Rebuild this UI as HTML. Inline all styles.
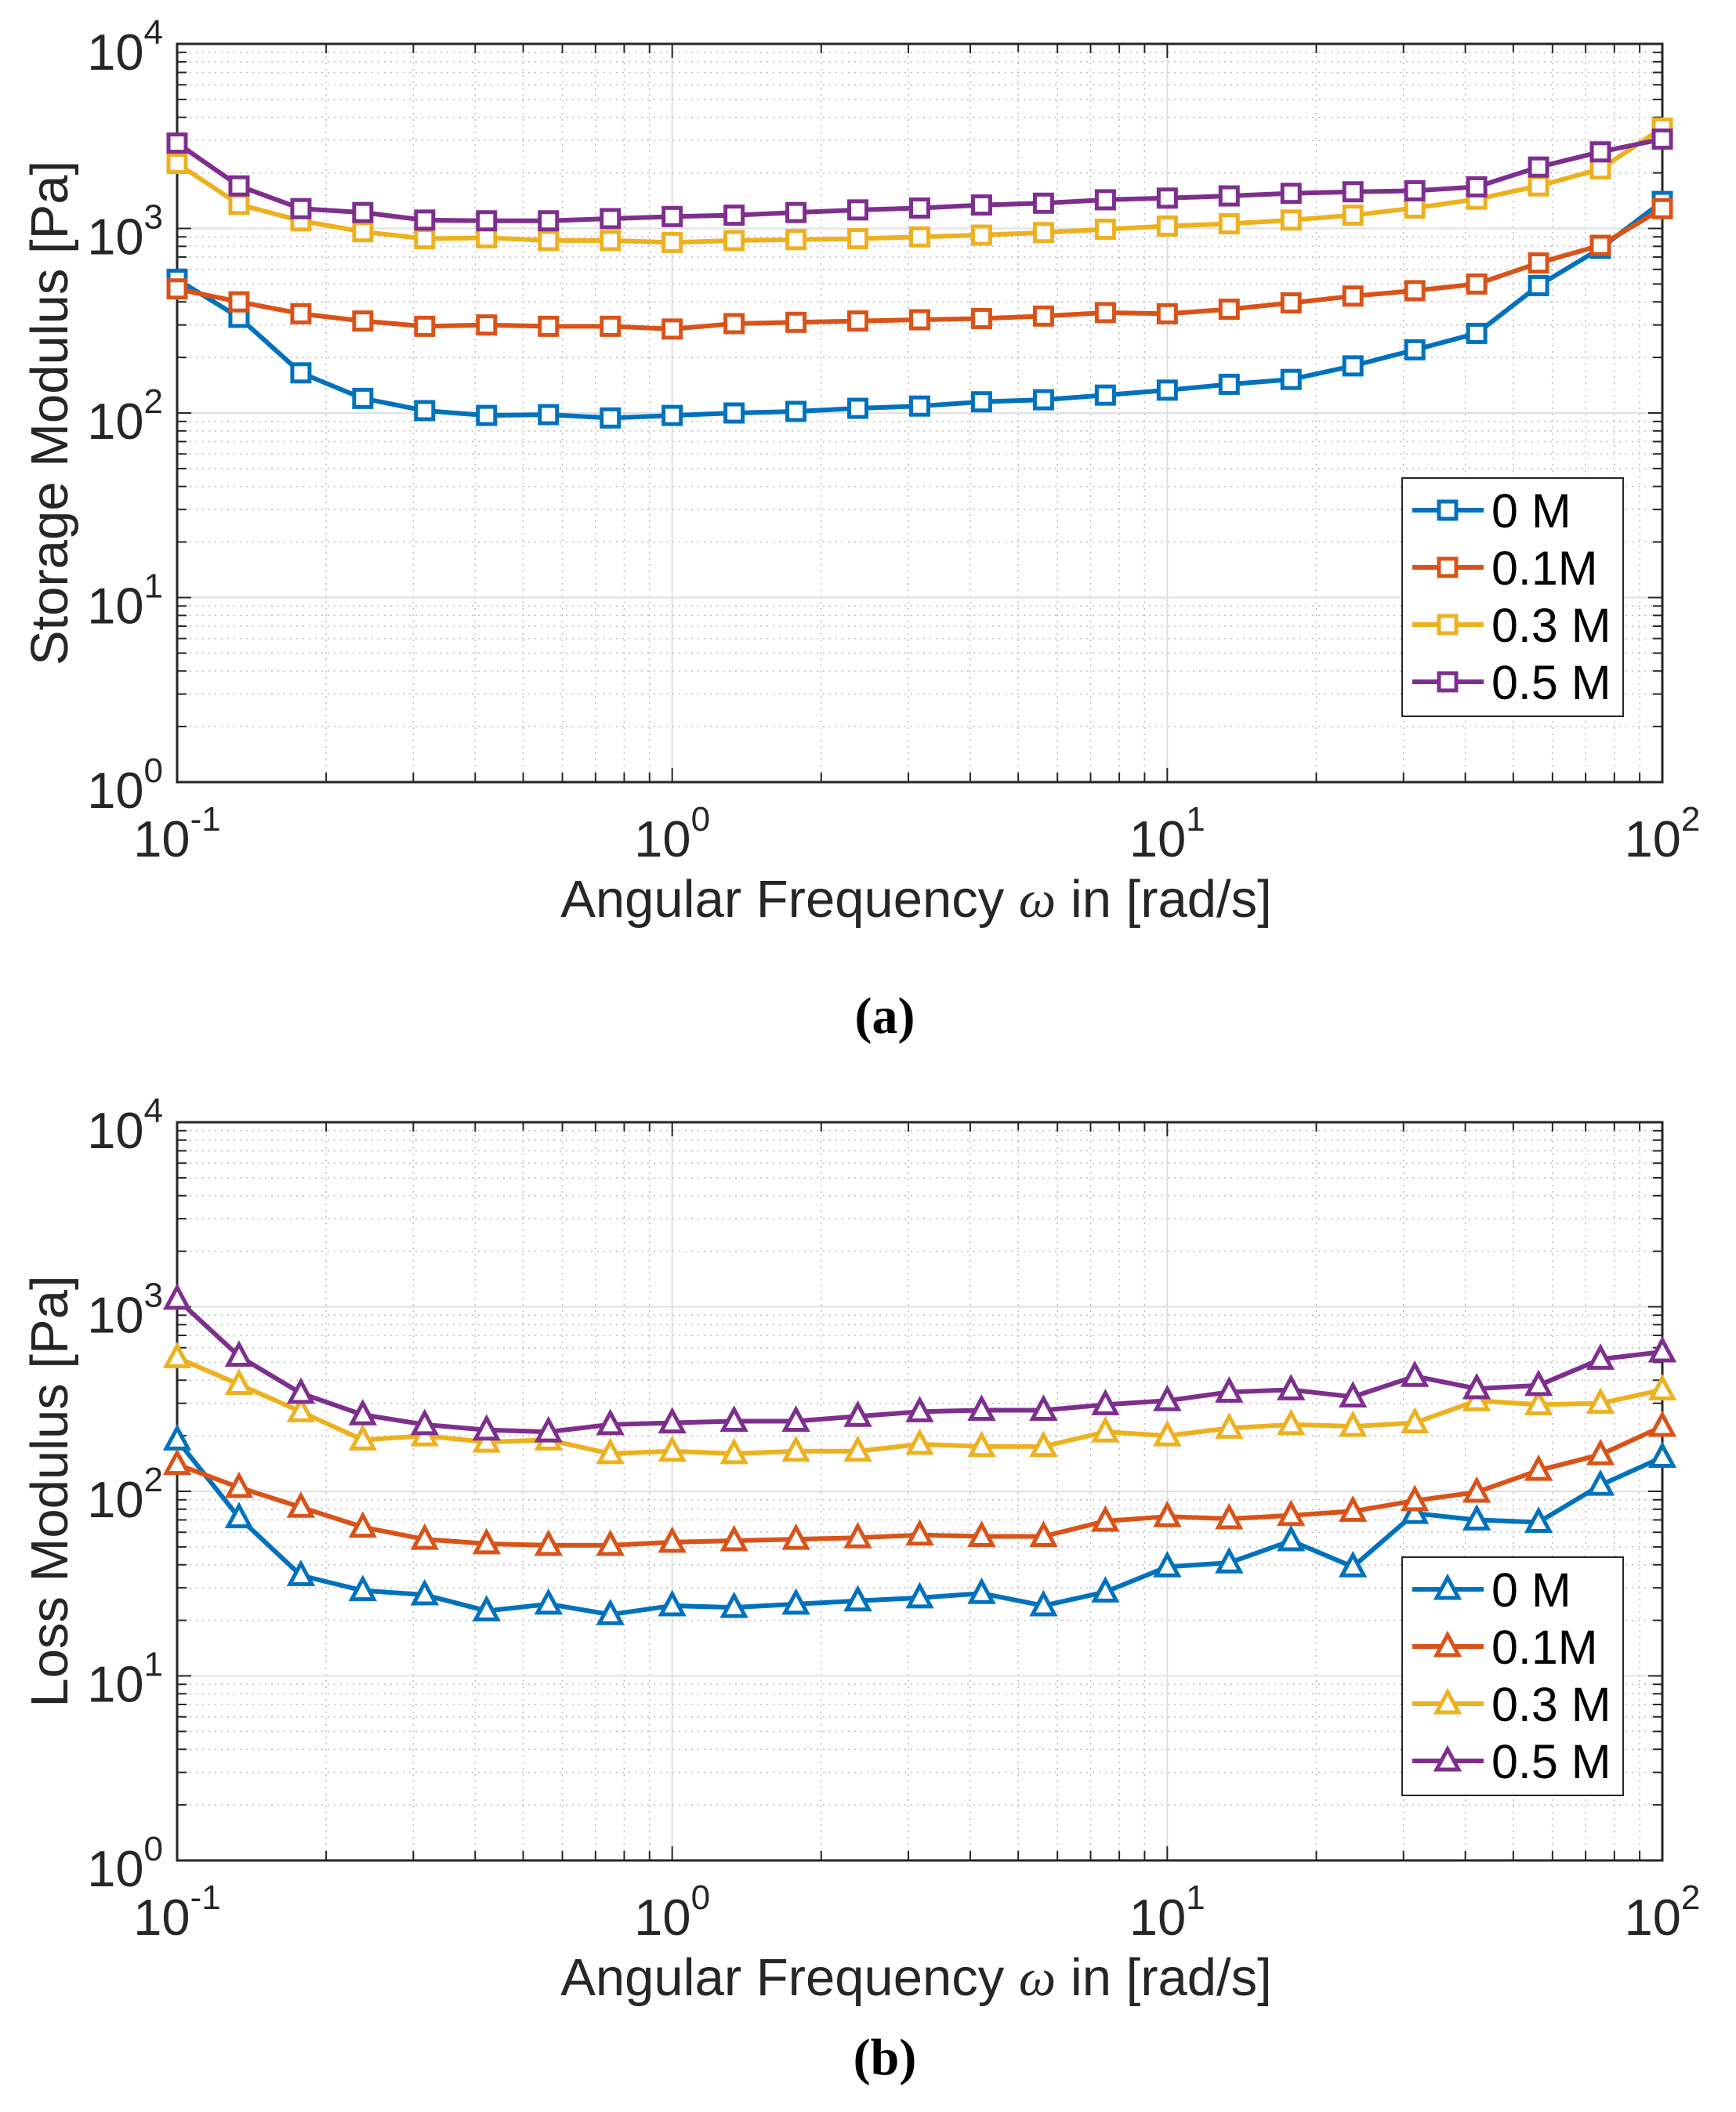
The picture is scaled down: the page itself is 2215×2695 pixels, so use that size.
<!DOCTYPE html>
<html><head><meta charset="utf-8"><style>
html,body{margin:0;padding:0;background:#fff;}
svg{display:block;}
text{font-family:"Liberation Sans",Arial,sans-serif;fill:#262626;}
</style></head><body>
<svg id="fig" width="2215" height="2695" viewBox="0 0 2215 2695" xmlns="http://www.w3.org/2000/svg">
<rect width="2215" height="2695" fill="#fff"/>
</svg>
<script>
const freqExp = [];
for (let i = 0; i < 25; i++) freqExp.push(-1 + i * 0.125);
const seriesNames = ["0 M", "0.1M", "0.3 M", "0.5 M"];
const storage0 = [530,330,165,120,103,97,98,94,97,100,102,106,109,115,118,125,133,143,152,180,220,270,490,780,1400];
const storage01 = [470,400,345,315,295,300,295,295,285,305,310,315,320,325,335,350,345,365,395,430,460,500,650,810,1280];
const storage03 = [2250,1350,1100,960,880,890,860,860,840,860,870,880,900,920,950,990,1030,1060,1110,1180,1290,1440,1700,2100,3500];
const storage05 = [2900,1700,1280,1220,1110,1100,1100,1130,1160,1180,1220,1260,1290,1340,1370,1430,1460,1500,1550,1580,1600,1680,2150,2600,3050];
const loss0 = [190,72,35,29,27.5,22.5,24.5,21.5,24,23.5,24.5,25.5,26.5,28,24,28.5,39,41,54,39,76,70,68,108,153];
const loss01 = [140,105,82,64,55,52,51,51,53,54,55,56,58,57,57,69,73,71,74,78,89,99,130,158,225];
const loss03 = [530,380,270,190,200,185,190,160,165,160,165,165,180,175,175,210,200,220,230,225,235,310,295,300,355];
const loss05 = [1100,540,340,260,230,215,210,230,235,240,240,255,270,275,275,295,310,345,355,325,420,360,375,520,570];
const xTickExp = [-1,0,1,2];
const yTickExp = [0,1,2,3,4];
const colors = ["#0072BD","#D95319","#EDB120","#7E2F8E"];

const NS = "http://www.w3.org/2000/svg";
const svg = document.getElementById("fig");
function mk(tag, attrs, parent) {
  const e = document.createElementNS(NS, tag);
  for (const k in attrs) e.setAttribute(k, attrs[k]);
  (parent || svg).appendChild(e);
  return e;
}

function drawPanel(cfg) {
  const L = 226, R = 2121, T = cfg.top, B = cfg.top + 942;
  const g = mk("g", {});
  
  
  const xs = e => L + (e + 1) / 3 * (R - L);
  const ys = v => B - Math.log10(v) / 4 * (B - T);
  for (let d = -1; d < 2; d++) for (let m = 2; m <= 9; m++) {
    const x = xs(d + Math.log10(m));
    mk("line", {x1:x, x2:x, y1:T, y2:B, stroke:"#bdbdbd", "stroke-width":1.5, "stroke-dasharray":"2 6"}, g);
    mk("line", {x1:x, x2:x, y1:B, y2:B-12, stroke:"#262626", "stroke-width":2}, g);
    mk("line", {x1:x, x2:x, y1:T, y2:T+12, stroke:"#262626", "stroke-width":2}, g);
  }
  for (let d = 0; d < 4; d++) for (let m = 2; m <= 9; m++) {
    const y = ys(Math.pow(10, d) * m);
    mk("line", {x1:L, x2:R, y1:y, y2:y, stroke:"#bdbdbd", "stroke-width":1.5, "stroke-dasharray":"2 6"}, g);
    mk("line", {x1:L, x2:L+12, y1:y, y2:y, stroke:"#262626", "stroke-width":2}, g);
    mk("line", {x1:R, x2:R-12, y1:y, y2:y, stroke:"#262626", "stroke-width":2}, g);
  }
  xTickExp.forEach(e => {
    const x = xs(e);
    mk("line", {x1:x, x2:x, y1:T, y2:B, stroke:"#e0e0e0", "stroke-width":2}, g);
    mk("line", {x1:x, x2:x, y1:B, y2:B-18, stroke:"#262626", "stroke-width":2}, g);
    mk("line", {x1:x, x2:x, y1:T, y2:T+18, stroke:"#262626", "stroke-width":2}, g);
    const t = mk("text", {x:x, y:B+95, "text-anchor":"middle", "font-size":65}, g);
    
    
    t.appendChild(document.createTextNode("10"));
    const s = mk("tspan", {dy:-33, "font-size":44}, t);
    s.textContent = String(e);
  });
  yTickExp.forEach(e => {
    const y = ys(Math.pow(10, e));
    mk("line", {x1:L, x2:R, y1:y, y2:y, stroke:"#e0e0e0", "stroke-width":2}, g);
    mk("line", {x1:L, x2:L+18, y1:y, y2:y, stroke:"#262626", "stroke-width":2}, g);
    mk("line", {x1:R, x2:R-18, y1:y, y2:y, stroke:"#262626", "stroke-width":2}, g);
    const t = mk("text", {x:208, y:y+33, "text-anchor":"end", "font-size":65}, g);
    
    
    t.appendChild(document.createTextNode("10"));
    const s = mk("tspan", {dy:-33, "font-size":44}, t);
    s.textContent = String(e);
  });
  mk("rect", {x:L, y:T, width:R-L, height:B-T, fill:"none", stroke:"#262626", "stroke-width":3}, g);

  const marker = (x, y, c, par) => {
    if (cfg.tri) return mk("path", {d:`M${x},${y-15} L${x+14},${y+11} L${x-14},${y+11} Z`, fill:"#fff", stroke:c, "stroke-width":5}, par);
    return mk("rect", {x:x-11, y:y-11, width:22, height:22, fill:"#fff", stroke:c, "stroke-width":5}, par);
  };
  cfg.series.forEach((vals, si) => {
    const sg = mk("g", {}, g);
    
    
    const pts = vals.map((v, i) => xs(freqExp[i]) + "," + ys(v)).join(" ");
    mk("polyline", {points:pts, fill:"none", stroke:colors[si], "stroke-width":6, "stroke-linejoin":"round"}, sg);
    vals.forEach((v, i) => {
      const m = marker(xs(freqExp[i]), ys(v), colors[si], sg);
      
      
    });
  });
  const lg = mk("g", {}, g);
  
  
  const ly = cfg.legendTop;
  mk("rect", {x:1789, y:ly, width:282, height:304, fill:"#fff", stroke:"#262626", "stroke-width":2}, lg);
  seriesNames.forEach((n, si) => {
    const y = ly + 41 + si * 73;
    const eg = mk("g", {}, lg);
    
    
    mk("line", {x1:1802, x2:1893, y1:y, y2:y, stroke:colors[si], "stroke-width":6}, eg);
    marker(1847, y, colors[si], eg);
    const t = mk("text", {x:1903, y:y+22, "font-size":61}, eg);
    t.style.fill = "#000";
    t.textContent = n;
  });
  const yt = mk("text", {x:0, y:0, "text-anchor":"middle", "font-size":67, transform:`translate(86,${(T+B)/2}) rotate(-90)`}, g);
  
  
  yt.textContent = cfg.ytitle;
  const xt = mk("text", {x:1169, y:B+172, "text-anchor":"middle", "font-size":67}, g);
  
  
  xt.appendChild(document.createTextNode("Angular Frequency "));
  const w = mk("tspan", {"font-style":"italic", "font-family":"Liberation Serif, serif"}, xt);
  w.textContent = "ω";
  xt.appendChild(document.createTextNode(" in [rad/s]"));
  const cap = mk("text", {x:1129, y:cfg.capY, "text-anchor":"middle", "font-size":66, "font-weight":"bold"}, g);
  cap.style.fontFamily = '"Liberation Serif", serif';
  cap.style.fill = "#000";
  
  
  cap.textContent = cfg.caption;
}

drawPanel({name:"storage-modulus-chart", top:56, series:[storage0,storage01,storage03,storage05], tri:false, legendTop:610, ytitle:"Storage Modulus [Pa]", caption:"(a)", capY:1318});
drawPanel({name:"loss-modulus-chart", top:1432, series:[loss0,loss01,loss03,loss05], tri:true, legendTop:1987, ytitle:"Loss Modulus [Pa]", caption:"(b)", capY:2647});
</script>
</body></html>
